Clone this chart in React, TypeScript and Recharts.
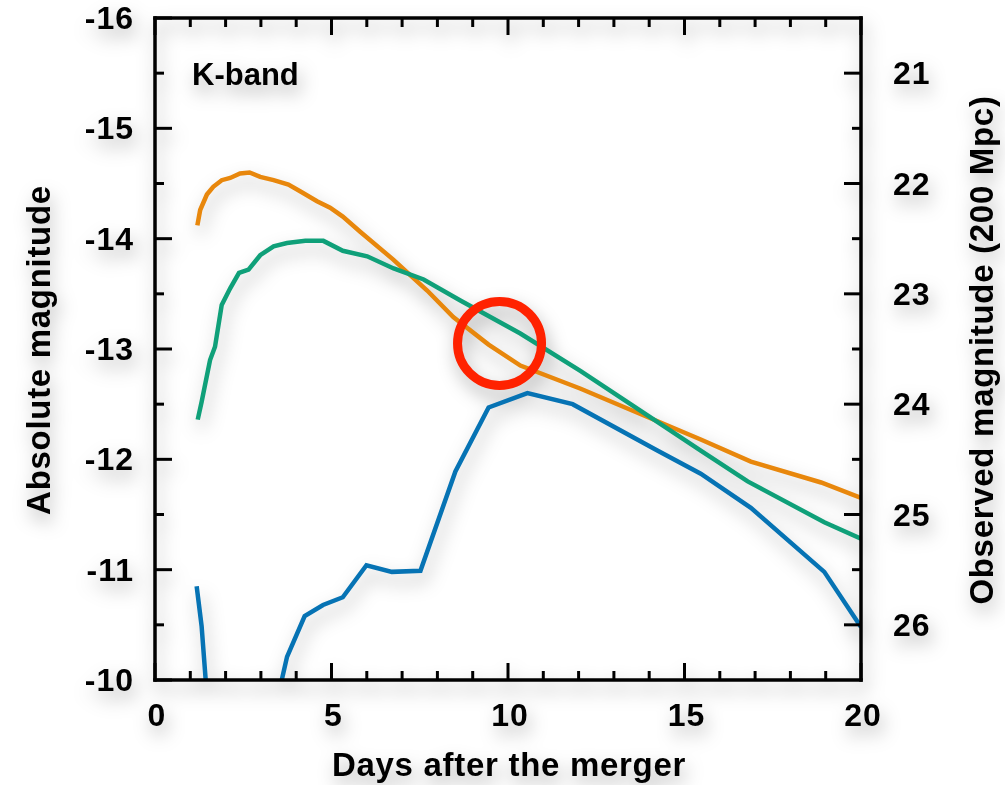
import { LineChart, Line, XAxis, YAxis, ReferenceDot } from "recharts";

// K-band light curves, absolute magnitude vs days after merger
const orangeDays = [1.2, 1.28, 1.47, 1.65, 1.89, 2.13, 2.41, 2.68, 2.98, 3.36, 3.78, 4.11, 4.59, 4.96, 5.32, 5.82, 6.75, 7.71, 8.45, 9.45, 10.35, 12.06, 15.46, 16.88, 18.87, 20];
const orangeMag = [-14.12, -14.26, -14.4, -14.47, -14.53, -14.55, -14.59, -14.6, -14.56, -14.53, -14.49, -14.43, -14.34, -14.28, -14.2, -14.06, -13.81, -13.53, -13.29, -13.04, -12.85, -12.64, -12.18, -11.98, -11.79, -11.65];

const greenDays = [1.21, 1.32, 1.56, 1.7, 1.89, 2.13, 2.38, 2.65, 2.98, 3.36, 3.74, 4.26, 4.77, 5.32, 6.01, 6.76, 7.61, 8.65, 10.35, 12.06, 15.46, 16.79, 18.96, 20];
const greenMag = [-12.36, -12.52, -12.9, -13.02, -13.4, -13.55, -13.69, -13.72, -13.85, -13.93, -13.96, -13.98, -13.98, -13.89, -13.84, -13.73, -13.63, -13.44, -13.14, -12.8, -12.08, -11.8, -11.43, -11.28];

// blue drops out of the plotted range between ~1.5 and ~3.5 days
const blueEarlyDays = [1.18, 1.32, 1.46];
const blueEarlyMag = [-10.85, -10.49, -9.9];
const blueDays = [3.52, 3.74, 4.24, 4.76, 5.32, 5.99, 6.71, 7.52, 8.51, 9.45, 10.55, 11.83, 14.23, 15.46, 16.88, 18.96, 20];
const blueMag = [-9.9, -10.21, -10.58, -10.68, -10.75, -11.04, -10.98, -10.99, -11.89, -12.47, -12.6, -12.5, -12.08, -11.87, -11.56, -10.98, -10.48];

const xTicks = [0, 1, 2, 3, 4, 5, 6, 7, 8, 9, 10, 11, 12, 13, 14, 15, 16, 17, 18, 19, 20];
const leftTicks = [-16, -15.5, -15, -14.5, -14, -13.5, -13, -12.5, -12, -11.5, -11, -10.5, -10];
const rightTicks = [21, 21.5, 22, 22.5, 23, 23.5, 24, 24.5, 25, 25.5, 26];

const highlight = { day: 9.76, mag: -13.05 };

const FONT = '"Liberation Sans", Arial, Helvetica, sans-serif';
const TICK_FONT = { fontFamily: FONT, fontWeight: 700, fontSize: 32, letterSpacing: 1 };
const TITLE_FONT = { fontFamily: FONT, fontWeight: 700, fontSize: 33, letterSpacing: 0.7 };

const toRows = (days: number[], mags: number[]) => days.map((d, i) => ({ day: d, mag: mags[i] }));

const MAJOR = 17;
const MINOR = 9;

function BottomTick({ x, y, payload }: any) {
  const major = payload.value % 5 === 0;
  return (
    <g>
      <line x1={x} y1={y} x2={x} y2={y - (major ? MAJOR : MINOR)} stroke="#000" strokeWidth={3} />
      {major && (
        <text x={x + 2} y={y + 46} textAnchor="middle" fill="#000" style={TICK_FONT}>
          {payload.value}
        </text>
      )}
    </g>
  );
}

function TopTick({ x, y, payload }: any) {
  const major = payload.value % 5 === 0;
  return <line x1={x} y1={y} x2={x} y2={y + (major ? MAJOR : MINOR)} stroke="#000" strokeWidth={3} />;
}

function LeftTick({ x, y, payload }: any) {
  const major = Number.isInteger(payload.value);
  return (
    <g>
      <line x1={x} y1={y} x2={x + (major ? MAJOR : MINOR)} y2={y} stroke="#000" strokeWidth={3} />
      {major && (
        <text x={x - 21} y={y} textAnchor="end" dominantBaseline="central" fill="#000" style={TICK_FONT}>
          {payload.value}
        </text>
      )}
    </g>
  );
}

function RightTick({ x, y, payload }: any) {
  const major = Number.isInteger(payload.value);
  return (
    <g>
      <line x1={x} y1={y} x2={x - (major ? MAJOR : MINOR)} y2={y} stroke="#000" strokeWidth={3} />
      {major && (
        <text x={x + 32} y={y} textAnchor="start" dominantBaseline="central" fill="#000" style={TICK_FONT}>
          {payload.value}
        </text>
      )}
    </g>
  );
}

const axisLine = { stroke: "#000", strokeWidth: 3.5, strokeLinecap: "square" as const };

export default function App() {
  return (
    <div
      style={{
        position: "absolute",
        left: 0,
        top: 0,
        width: 1005,
        height: 785,
        filter: "drop-shadow(3px 9px 9px rgba(0,0,0,0.3))",
      }}
    >
      <LineChart width={1005} height={785} margin={{ top: 8, right: 84, left: 95, bottom: 65 }}>
        <XAxis
          dataKey="day"
          type="number"
          domain={[0, 20]}
          allowDataOverflow
          ticks={xTicks}
          interval={0}
          height={40}
          tickSize={0}
          tickMargin={0}
          tickLine={false}
          axisLine={axisLine}
          tick={<BottomTick />}
        />
        <XAxis
          xAxisId="top"
          orientation="top"
          dataKey="day"
          type="number"
          domain={[0, 20]}
          allowDataOverflow
          ticks={xTicks}
          interval={0}
          height={10}
          tickSize={0}
          tickMargin={0}
          tickLine={false}
          axisLine={axisLine}
          tick={<TopTick />}
        />
        <YAxis
          type="number"
          domain={[-16, -10]}
          reversed
          allowDataOverflow
          ticks={leftTicks}
          interval={0}
          width={60}
          tickSize={0}
          tickMargin={0}
          tickLine={false}
          axisLine={axisLine}
          tick={<LeftTick />}
        />
        <YAxis
          yAxisId="right"
          orientation="right"
          type="number"
          domain={[20.5, 26.5]}
          reversed
          allowDataOverflow
          ticks={rightTicks}
          interval={0}
          width={60}
          tickSize={0}
          tickMargin={0}
          tickLine={false}
          axisLine={axisLine}
          tick={<RightTick />}
        />
        <Line data={toRows(orangeDays, orangeMag)} dataKey="mag" type="linear" stroke="#E8870C" strokeWidth={4.5} dot={false} isAnimationActive={false} />
        <Line data={toRows(greenDays, greenMag)} dataKey="mag" type="linear" stroke="#0FA079" strokeWidth={4.5} dot={false} isAnimationActive={false} />
        <Line data={toRows(blueEarlyDays, blueEarlyMag)} dataKey="mag" type="linear" stroke="#0673B4" strokeWidth={4.5} dot={false} isAnimationActive={false} />
        <Line data={toRows(blueDays, blueMag)} dataKey="mag" type="linear" stroke="#0673B4" strokeWidth={4.5} dot={false} isAnimationActive={false} />
        <ReferenceDot x={highlight.day} y={highlight.mag} r={42} fill="none" stroke="#FF2200" strokeWidth={9} ifOverflow="visible" />
        <text x={192} y={85} fill="#000" style={{ fontFamily: FONT, fontWeight: 700, fontSize: 31 }}>
          K-band
        </text>
        <text x={509} y={776} textAnchor="middle" fill="#000" style={TITLE_FONT}>
          Days after the merger
        </text>
        <text x={50} y={350} transform="rotate(-90 50 350)" textAnchor="middle" fill="#000" style={TITLE_FONT}>
          Absolute magnitude
        </text>
        <text x={993} y={350} transform="rotate(-90 993 350)" textAnchor="middle" fill="#000" style={TITLE_FONT}>
          Observed magnitude (200 Mpc)
        </text>
      </LineChart>
    </div>
  );
}
